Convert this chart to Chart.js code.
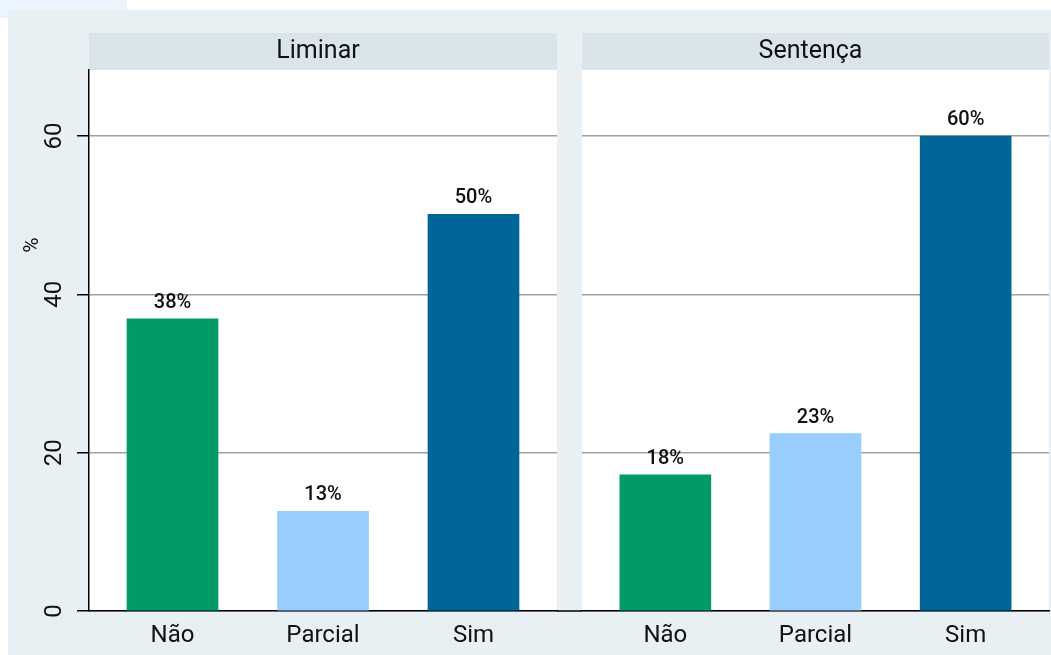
<!DOCTYPE html>
<html>
<head>
<meta charset="utf-8">
<script src="https://cdn.jsdelivr.net/npm/chart.js@4.4.1/dist/chart.umd.min.js"></script>
<style>
  body { margin: 0; background: #fff; }
  #corner { position: absolute; left: 0; top: 0; width: 127px; height: 18px; background: #eaf5fd; }
  #wrap { position: absolute; left: 8px; top: 10px; width: 1043px; height: 645px; background: #e8f0f3; }
  #c1 { position: absolute; left: 0; top: 0; }
  #c2 { position: absolute; left: 562px; top: 0; }
</style>
</head>
<body>
<div id="corner"></div>
<div id="wrap">
  <canvas id="c1" width="562" height="645"></canvas>
  <canvas id="c2" width="481" height="645"></canvas>
</div>
<script>
const categories = ['Não', 'Parcial', 'Sim'];
const panelTitles = ['Liminar', 'Sentença'];
const liminarValues = [36.9, 12.6, 50.1];
const sentencaValues = [17.2, 22.4, 60.0];
const liminarLabels = ['38%', '13%', '50%'];
const sentencaLabels = ['18%', '23%', '60%'];
const yTicks = [0, 20, 40, 60];
const yTitle = '%';
const barColors = ['#009a66', '#99ccff', '#006699'];

const FONT = 'Roboto';

// white plot area + grey header strip with the panel name
const panelBg = {
  id: 'panelBg',
  beforeDraw(chart, args, opts) {
    const ctx = chart.ctx, a = chart.chartArea;
    ctx.save();
    ctx.fillStyle = '#ffffff';
    ctx.fillRect(a.left, a.top, a.right - a.left, a.bottom - a.top);
    ctx.fillStyle = '#d9e5eb';
    ctx.fillRect(a.left, a.top - 37, a.right - a.left, 37);
    ctx.fillStyle = '#111';
    ctx.font = '25px ' + FONT;
    ctx.textAlign = 'center';
    ctx.textBaseline = 'middle';
    ctx.fillText(opts.title, (a.left + a.right) / 2 - 5, a.top - 18);
    ctx.restore();
  }
};

// value labels above bars + x axis line running across the gap
const barLabels = {
  id: 'barLabels',
  afterDatasetsDraw(chart, args, opts) {
    const ctx = chart.ctx;
    const meta = chart.getDatasetMeta(0);
    ctx.save();
    ctx.fillStyle = '#111';
    ctx.font = '500 20px ' + FONT;
    ctx.textAlign = 'center';
    ctx.textBaseline = 'middle';
    meta.data.forEach((bar, i) => {
      ctx.fillText(opts.labels[i], bar.x, bar.y - 16);
    });
    ctx.restore();
  },
  afterDraw(chart, args, opts) {
    const ctx = chart.ctx, a = chart.chartArea;
    ctx.save();
    ctx.strokeStyle = '#000';
    ctx.lineWidth = 1.5;
    ctx.beginPath();
    if (opts.left) {
      ctx.moveTo(a.right, a.bottom);
      ctx.lineTo(chart.width, a.bottom);
    } else {
      ctx.moveTo(0, a.bottom);
      ctx.lineTo(a.left, a.bottom);
    }
    ctx.stroke();
    // rotated y tick labels and axis title (left panel only)
    if (opts.left) {
      const ys = chart.scales.y;
      ctx.fillStyle = '#111';
      ctx.font = '24px ' + FONT;
      ctx.textAlign = 'center';
      ctx.textBaseline = 'middle';
      yTicks.forEach(v => {
        const y = ys.getPixelForValue(v);
        ctx.save();
        ctx.translate(47, y);
        ctx.rotate(-Math.PI / 2);
        ctx.fillText(String(v), 0, 0);
        ctx.restore();
      });
      ctx.font = '21px ' + FONT;
      ctx.save();
      ctx.translate(25, 235);
      ctx.rotate(-Math.PI / 2);
      ctx.fillText(yTitle, 0, 0);
      ctx.restore();
    }
    ctx.restore();
  }
};

function makeChart(id, title, values, labels, isLeft) {
  const ctx = document.getElementById(id).getContext('2d');
  return new Chart(ctx, {
    type: 'bar',
    data: {
      datasets: [{
        data: values.map((v, i) => ({ x: i, y: v })),
        backgroundColor: barColors,
        borderWidth: 0,
        barThickness: 91
      }]
    },
    options: {
      responsive: false,
      animation: false,
      layout: {
        padding: isLeft
          ? { left: 0, right: 13, top: 60, bottom: 0 }
          : { left: 12, right: 2, top: 60, bottom: 0 }
      },
      plugins: {
        legend: { display: false },
        tooltip: { enabled: false },
        panelBg: { title: title },
        barLabels: { labels: labels, left: isLeft }
      },
      scales: {
        x: {
          type: 'linear',
          offset: false,
          min: -0.555,
          max: 2.555,
          afterBuildTicks: (scale) => { scale.ticks = categories.map((c, i) => ({ value: i })); },
          afterFit: (scale) => { scale.height = 44; },
          grid: { display: false, drawTicks: false },
          border: { display: true, color: '#000', width: 1.5 },
          ticks: {
            autoSkip: false,
            maxRotation: 0,
            padding: 11,
            color: '#111',
            font: { family: FONT, size: 24 },
            callback: (v) => categories[v]
          }
        },
        y: {
          min: 0,
          max: 68.34,
          afterBuildTicks: (scale) => { scale.ticks = yTicks.map(v => ({ value: v })); },
          afterFit: (scale) => { scale.width = isLeft ? 81 : 0; },
          grid: {
            color: '#a0a0a0',
            lineWidth: 1.5,
            drawTicks: isLeft,
            tickLength: 12,
            tickColor: '#000',
            tickWidth: 1.5
          },
          border: { display: isLeft, color: '#000', width: 1.5 },
          ticks: { display: false }
        }
      }
    },
    plugins: [panelBg, barLabels]
  });
}

makeChart('c1', panelTitles[0], liminarValues, liminarLabels, true);
makeChart('c2', panelTitles[1], sentencaValues, sentencaLabels, false);
</script>
</body>
</html>
